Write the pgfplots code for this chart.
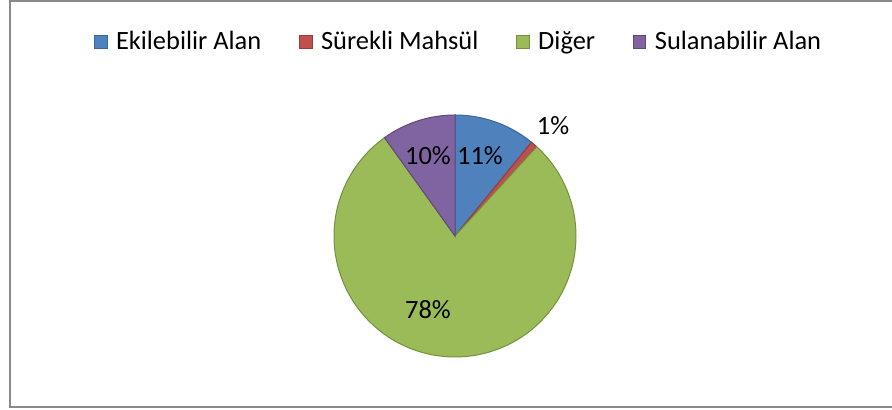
\documentclass[border=0pt]{standalone}
\usepackage{fontspec}
\setmainfont{Carlito}
\usepackage{pgfplots}
\pgfplotsset{compat=1.18}
\usepackage{pgfplotstable}
\definecolor{cBlue}{HTML}{4F81BD}
\definecolor{cBlueD}{HTML}{3A679C}
\definecolor{cRed}{HTML}{C0504D}
\definecolor{cRedD}{HTML}{973C3A}
\definecolor{cGreen}{HTML}{9BBB59}
\definecolor{cGreenD}{HTML}{74913F}
\definecolor{cPurple}{HTML}{8064A2}
\definecolor{cPurpleD}{HTML}{5F4A7B}
\definecolor{frameGray}{HTML}{8A8A8A}
\pgfplotstableread{
label value
Ekilebilir 10.9
Surekli 0.9
Diger 78.3
Sulanabilir 9.9
}\piedata
\begin{document}
\begin{tikzpicture}
\pgfplotstablegetelem{0}{value}\of\piedata \pgfmathsetmacro\vA{\pgfplotsretval}
\pgfplotstablegetelem{1}{value}\of\piedata \pgfmathsetmacro\vB{\pgfplotsretval}
\pgfplotstablegetelem{2}{value}\of\piedata \pgfmathsetmacro\vC{\pgfplotsretval}
\pgfplotstablegetelem{3}{value}\of\piedata \pgfmathsetmacro\vD{\pgfplotsretval}
\pgfmathsetmacro\aZero{90}
\pgfmathsetmacro\aOne{\aZero-3.6*\vA}
\pgfmathsetmacro\aTwo{\aOne-3.6*\vB}
\pgfmathsetmacro\aThree{\aTwo-3.6*\vC}
\pgfmathsetmacro\aFour{\aThree-3.6*\vD}
\def\R{60.5pt}
\begin{axis}[
  width=446pt, height=205pt, scale only axis,
  xmin=0, xmax=892, ymin=0, ymax=410,
  hide axis, clip=false,
  legend image code/.code={\draw[#1,line width=0.5pt] (0pt,-3.2pt) rectangle (6.4pt,3.2pt);},
  legend columns=4,
  legend style={at={(0.514,0.8976)}, anchor=center, draw=none, fill=none,
    font=\fontsize{13.2}{15}\selectfont,
    nodes={inner sep=1pt},
    /tikz/every odd column/.append style={column sep=3.2pt},
    /tikz/every even column/.append style={column sep=17.8pt}},
]
\addlegendimage{fill=cBlue, draw=cBlueD}
\addlegendentry{Ekilebilir Alan}
\addlegendimage{fill=cRed, draw=cRedD}
\addlegendentry{Sürekli Mahsül}
\addlegendimage{fill=cGreen, draw=cGreenD}
\addlegendentry{Diğer}
\addlegendimage{fill=cPurple, draw=cPurpleD}
\addlegendentry{Sulanabilir Alan}

\filldraw[fill=cBlue, draw=cBlueD, line width=0.5pt] (axis cs:455,174) -- ++(\aZero:\R) arc[start angle=\aZero, end angle=\aOne, radius=\R] -- cycle;
\filldraw[fill=cRed, draw=cRedD, line width=0.5pt] (axis cs:455,174) -- ++(\aOne:\R) arc[start angle=\aOne, end angle=\aTwo, radius=\R] -- cycle;
\filldraw[fill=cGreen, draw=cGreenD, line width=0.5pt] (axis cs:455,174) -- ++(\aTwo:\R) arc[start angle=\aTwo, end angle=\aThree, radius=\R] -- cycle;
\filldraw[fill=cPurple, draw=cPurpleD, line width=0.5pt] (axis cs:455,174) -- ++(\aThree:\R) arc[start angle=\aThree, end angle=\aFour, radius=\R] -- cycle;

\node[font=\fontsize{13.2}{15}\selectfont] at (axis cs:480,254) {11\%};
\node[font=\fontsize{13.2}{15}\selectfont] at (axis cs:428,254) {10\%};
\node[font=\fontsize{13.2}{15}\selectfont] at (axis cs:553,284) {1\%};
\node[font=\fontsize{13.2}{15}\selectfont] at (axis cs:428,100) {78\%};

\draw[frameGray, line width=1pt] (axis cs:900,409) -- (axis cs:10,409) -- (axis cs:10,2.5) -- (axis cs:900,2.5);
\end{axis}
\pgfresetboundingbox
\path (0,0) rectangle (446pt,205pt);
\end{tikzpicture}
\end{document}
